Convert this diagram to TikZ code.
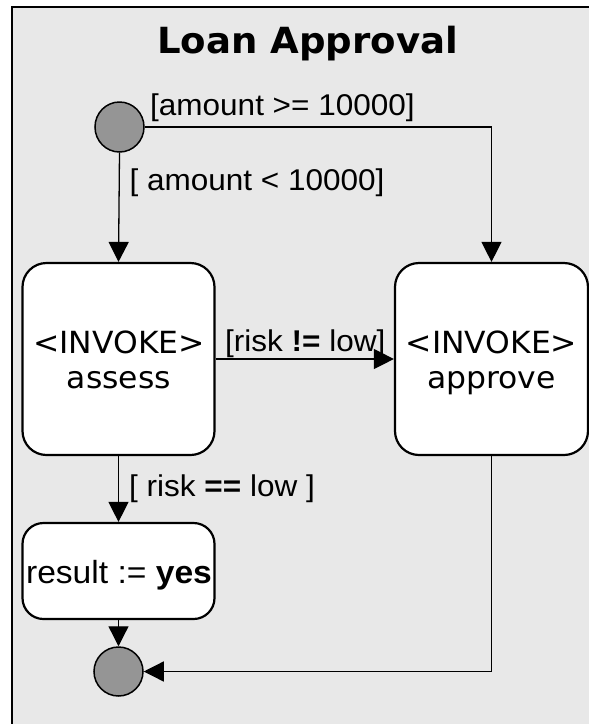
\documentclass[tikz,border=0pt]{standalone}
\usepackage{fontspec}
\setmainfont[FakeStretch=1.05]{Liberation Sans}
\newfontfamily\verdanalike[FakeStretch=1.03]{DejaVu Sans}
\usetikzlibrary{arrows.meta,shapes.geometric}
\definecolor{panelgray}{HTML}{E8E8E8}
\definecolor{dotgray}{HTML}{959595}
\tikzset{
  statebox/.style={draw=black, fill=white, line width=2.2pt, rounded corners=24pt, inner sep=0pt},
  boxtext/.style={inner sep=0pt, font=\verdanalike\fontsize{30.5}{35}\selectfont},
  pseudo/.style={draw=black, fill=dotgray, line width=1.5pt, ellipse, inner sep=0pt},
  flow/.style={line width=1.3pt, -{Triangle[length=20pt,width=20pt]}},
  guard/.style={inner sep=0pt, font=\fontsize{30}{34}\selectfont},
}
\begin{document}
\begin{tikzpicture}[x=1pt,y=-1pt]
  \useasboundingbox (0,0) rectangle (589,724);
  \clip (0,0) rectangle (589,724);
  % activity frame
  \draw[fill=panelgray, line width=1.7pt] (12.3,6.8) rectangle (620,760);
  \node[anchor=base, inner sep=0pt, font=\verdanalike\bfseries\fontsize{36}{40}\selectfont] (title) at (307.5,53.3) {Loan Approval};

  % states
  \node[pseudo, minimum width=49pt, minimum height=50pt] (start) at (119.5,127) {};
  \node[statebox, minimum width=192pt, minimum height=192pt] (assess) at (118.5,359) {};
  \node[statebox, minimum width=193pt, minimum height=192pt] (approve) at (491.5,359) {};
  \node[statebox, rounded corners=21pt, minimum width=192pt, minimum height=96pt] (result) at (118.5,571) {};
  \node[pseudo, minimum width=49pt, minimum height=49pt] (end) at (118.5,671.5) {};

  % state texts
  \node[boxtext, anchor=base] (assess-kind) at (119,353) {<INVOKE>};
  \node[boxtext, anchor=base] (assess-name) at (119,388) {assess};
  \node[boxtext, anchor=base] (approve-kind) at (491.5,353) {<INVOKE>};
  \node[boxtext, anchor=base] (approve-name) at (491.5,388) {approve};
  \node[anchor=base, inner sep=0pt, font=\fontsize{32}{36}\selectfont] (result-text) at (119,583.3) {result := \textbf{yes}};

  % transitions
  \draw[flow] (start.south) -- (assess.north);
  \draw[flow] (start.east) -| (approve.north);
  \draw[flow] (assess.east) -- (approve.west);
  \draw[flow] (assess.south) -- (result.north);
  \draw[flow] (result.south) -- (end.north);
  \draw[flow] (approve.south) |- (end.east);

  % guards
  \node[guard, anchor=base west] (g1) at (150,115) {[amount >= 10000]};
  \node[guard, anchor=base west] (g2) at (129.5,190) {[ amount < 10000]};
  \node[guard, anchor=base west] (g3) at (225,351) {[risk \textbf{!=} low]};
  \node[guard, anchor=base west] (g4) at (129,496) {[ risk \textbf{==} low ]};
\end{tikzpicture}
\end{document}
